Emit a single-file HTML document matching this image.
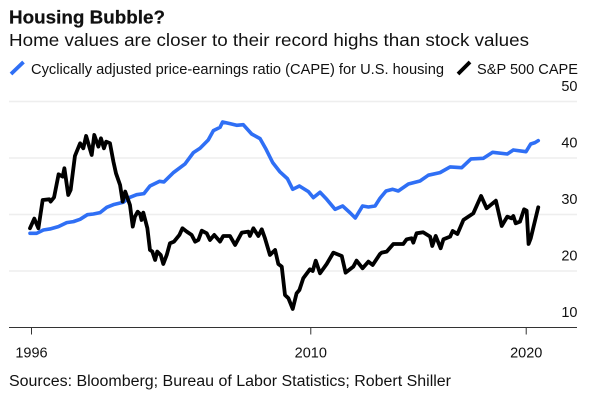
<!DOCTYPE html>
<html lang="en">
<head>
<meta charset="utf-8">
<title>Housing Bubble?</title>
<style>
html,body{margin:0;padding:0;background:#fff;width:600px;height:404px;overflow:hidden}
svg{display:block}
text{font-family:"Liberation Sans",Arial,sans-serif;fill:#111}
</style>
</head>
<body>
<svg id="chart" width="600" height="404" viewBox="0 0 600 404" xmlns="http://www.w3.org/2000/svg">
  <text x="9" y="23.5" font-size="18.5" font-weight="700" fill="#000" stroke="#000" stroke-width="0.2" textLength="156" lengthAdjust="spacingAndGlyphs">Housing Bubble?</text>
  <text x="9" y="46" font-size="17.5" textLength="520" lengthAdjust="spacingAndGlyphs">Home values are closer to their record highs than stock values</text>
  <line x1="11" y1="74" x2="23.5" y2="62" stroke="#2f6ff5" stroke-width="3.8"/>
  <text x="31" y="74" font-size="14.5" textLength="413" lengthAdjust="spacingAndGlyphs">Cyclically adjusted price-earnings ratio (CAPE) for U.S. housing</text>
  <line x1="458" y1="74" x2="470" y2="62" stroke="#000" stroke-width="3.8"/>
  <text x="477" y="74" font-size="14.5" textLength="101" lengthAdjust="spacingAndGlyphs">S&amp;P 500 CAPE</text>
  <g id="grid"></g>
  <g id="axis"></g>
  <g id="series"></g>
  <text x="9" y="386" font-size="15.5" textLength="442" lengthAdjust="spacingAndGlyphs">Sources: Bloomberg; Bureau of Labor Statistics; Robert Shiller</text>
</svg>
<script>
const yTicks = [50, 40, 30, 20];
const yAxisBase = 10;
const xTickYears = [1996.93, 2009.92, 2019.94];
const xTickLabels = ['1996', '2010', '2020'];

const housingYears = [1996.86,1997.17,1997.48,1997.79,1998.18,1998.57,1998.88,1999.19,1999.53,1999.81,2000.12,2000.43,2000.74,2001.20,2001.51,2001.82,2002.16,2002.44,2002.88,2003.09,2003.53,2004.07,2004.46,2004.77,2005.15,2005.39,2005.70,2005.82,2006.16,2006.47,2006.78,2007.17,2007.56,2007.84,2008.15,2008.49,2008.83,2009.08,2009.39,2009.81,2010.04,2010.35,2010.66,2011.05,2011.40,2011.74,2011.99,2012.33,2012.60,2012.91,2013.14,2013.42,2013.73,2013.99,2014.46,2015.00,2015.39,2015.93,2016.40,2016.94,2017.37,2017.95,2018.38,2019.06,2019.34,2019.93,2020.15,2020.35,2020.50];
const housingValues = [26.67,26.67,27.26,27.44,27.85,28.56,28.74,29.15,29.97,30.09,30.33,31.27,31.74,32.16,33.04,33.51,33.69,35.05,35.87,35.76,37.41,38.94,40.95,41.72,43.19,44.84,45.43,46.38,46.08,45.79,45.90,44.25,43.43,41.54,39.18,37.53,36.35,34.46,35.05,34.05,32.98,33.93,32.69,30.92,31.51,30.33,29.38,31.51,31.33,31.51,32.87,34.16,34.46,34.16,35.40,35.93,36.96,37.41,38.41,38.29,39.83,39.95,41.01,40.71,41.42,41.12,42.48,42.72,43.07];

const spxYears = [1996.86,1997.06,1997.25,1997.45,1997.76,1997.82,1997.98,1998.19,1998.38,1998.46,1998.64,1998.75,1998.95,1999.19,1999.34,1999.47,1999.73,1999.85,2000.04,2000.16,2000.30,2000.40,2000.58,2000.74,2000.86,2001.05,2001.17,2001.29,2001.51,2001.64,2001.74,2001.87,2001.98,2002.05,2002.13,2002.32,2002.44,2002.55,2002.68,2002.78,2002.94,2003.06,2003.22,2003.37,2003.56,2003.81,2003.95,2004.15,2004.38,2004.54,2004.69,2004.85,2005.08,2005.23,2005.43,2005.70,2005.85,2006.16,2006.40,2006.71,2007.02,2007.09,2007.25,2007.48,2007.64,2007.79,2008.02,2008.26,2008.41,2008.57,2008.72,2008.88,2009.08,2009.26,2009.39,2009.57,2009.88,2010.01,2010.15,2010.35,2010.66,2010.97,2011.36,2011.54,2011.90,2012.05,2012.33,2012.60,2012.80,2013.14,2013.22,2013.45,2013.76,2014.22,2014.38,2014.61,2014.69,2014.84,2015.15,2015.47,2015.57,2015.73,2015.96,2016.09,2016.40,2016.52,2016.74,2017.02,2017.48,2017.84,2018.10,2018.53,2018.80,2019.06,2019.26,2019.34,2019.45,2019.65,2019.84,2019.96,2020.05,2020.15,2020.50];
const spxValues = [27.56,29.27,27.56,32.57,32.69,32.28,33.04,37.11,36.70,38.18,33.46,34.34,40.36,42.60,41.72,43.90,40.54,44.08,42.01,43.49,41.72,42.89,42.60,39.36,37.29,35.23,32.28,34.05,31.69,27.85,29.62,30.50,30.09,29.03,30.33,27.56,23.72,23.43,21.95,23.43,22.84,21.24,22.84,24.90,25.20,26.38,27.56,26.97,26.38,25.20,25.49,27.14,26.67,25.49,26.38,25.20,26.20,26.20,24.61,26.79,26.97,26.20,27.56,26.20,27.38,25.79,22.84,23.72,21.24,20.77,15.76,15.17,13.28,16.05,16.64,18.71,20.30,20.00,21.83,19.59,21.24,23.25,22.66,19.71,20.77,21.83,20.48,21.66,21.07,23.01,23.25,23.43,24.78,24.78,25.61,25.79,25.02,26.67,26.85,26.08,24.43,26.20,24.02,25.61,26.08,27.08,26.55,29.03,30.21,33.28,31.10,32.45,27.97,29.62,29.33,29.74,28.44,28.74,30.92,30.68,24.78,25.79,31.27];

const NS = 'http://www.w3.org/2000/svg';
const plotLeft = 9;
const plotRight = 577;

function xScale(year) {
  return 312.5 + (year - 2010) * 21.5;
}
function yScale(value) {
  return 327.5 - (value - yAxisBase) * 5.65;
}
function make(tag, attrs, parent) {
  const el = document.createElementNS(NS, tag);
  for (const k in attrs) el.setAttribute(k, attrs[k]);
  parent.appendChild(el);
  return el;
}

const gridGroup = document.getElementById('grid');


const axisGroup = document.getElementById('axis');


const seriesGroup = document.getElementById('series');



yTicks.concat([yAxisBase]).forEach(function (tick) {
  const y = yScale(tick);
  if (tick !== yAxisBase) {
    const grid = make('line', {x1: plotLeft, x2: plotRight, y1: y, y2: y, stroke: '#eeeeee', 'stroke-width': 1.4}, gridGroup);
    
    
  }
  const label = make('text', {x: plotRight + 0.5, y: y - 10.5, 'font-size': 14.5, 'text-anchor': 'end'}, axisGroup);
  
  
  label.textContent = String(tick);
});

const baseline = make('line', {x1: plotLeft, x2: plotRight, y1: yScale(yAxisBase), y2: yScale(yAxisBase), stroke: '#333', 'stroke-width': 1}, axisGroup);



xTickYears.forEach(function (year, i) {
  const x = xScale(year);
  const tick = make('line', {x1: x, x2: x, y1: yScale(yAxisBase), y2: yScale(yAxisBase) + 7, stroke: '#333', 'stroke-width': 1}, axisGroup);
  
  
  const label = make('text', {x: x, y: 357.5, 'font-size': 14.5, 'text-anchor': 'middle'}, axisGroup);
  
  
  label.textContent = xTickLabels[i];
});

function linePath(years, values) {
  return years.map(function (yr, i) {
    return (i ? 'L' : 'M') + xScale(yr).toFixed(2) + ' ' + yScale(values[i]).toFixed(2);
  }).join('');
}

const housingLine = make('path', {d: linePath(housingYears, housingValues), fill: 'none', stroke: '#2f6ff5', 'stroke-width': 3.6, 'stroke-linejoin': 'round', 'stroke-linecap': 'round'}, seriesGroup);



const spxLine = make('path', {d: linePath(spxYears, spxValues), fill: 'none', stroke: '#000', 'stroke-width': 3.8, 'stroke-linejoin': 'round', 'stroke-linecap': 'round'}, seriesGroup);


</script>
</body>
</html>
